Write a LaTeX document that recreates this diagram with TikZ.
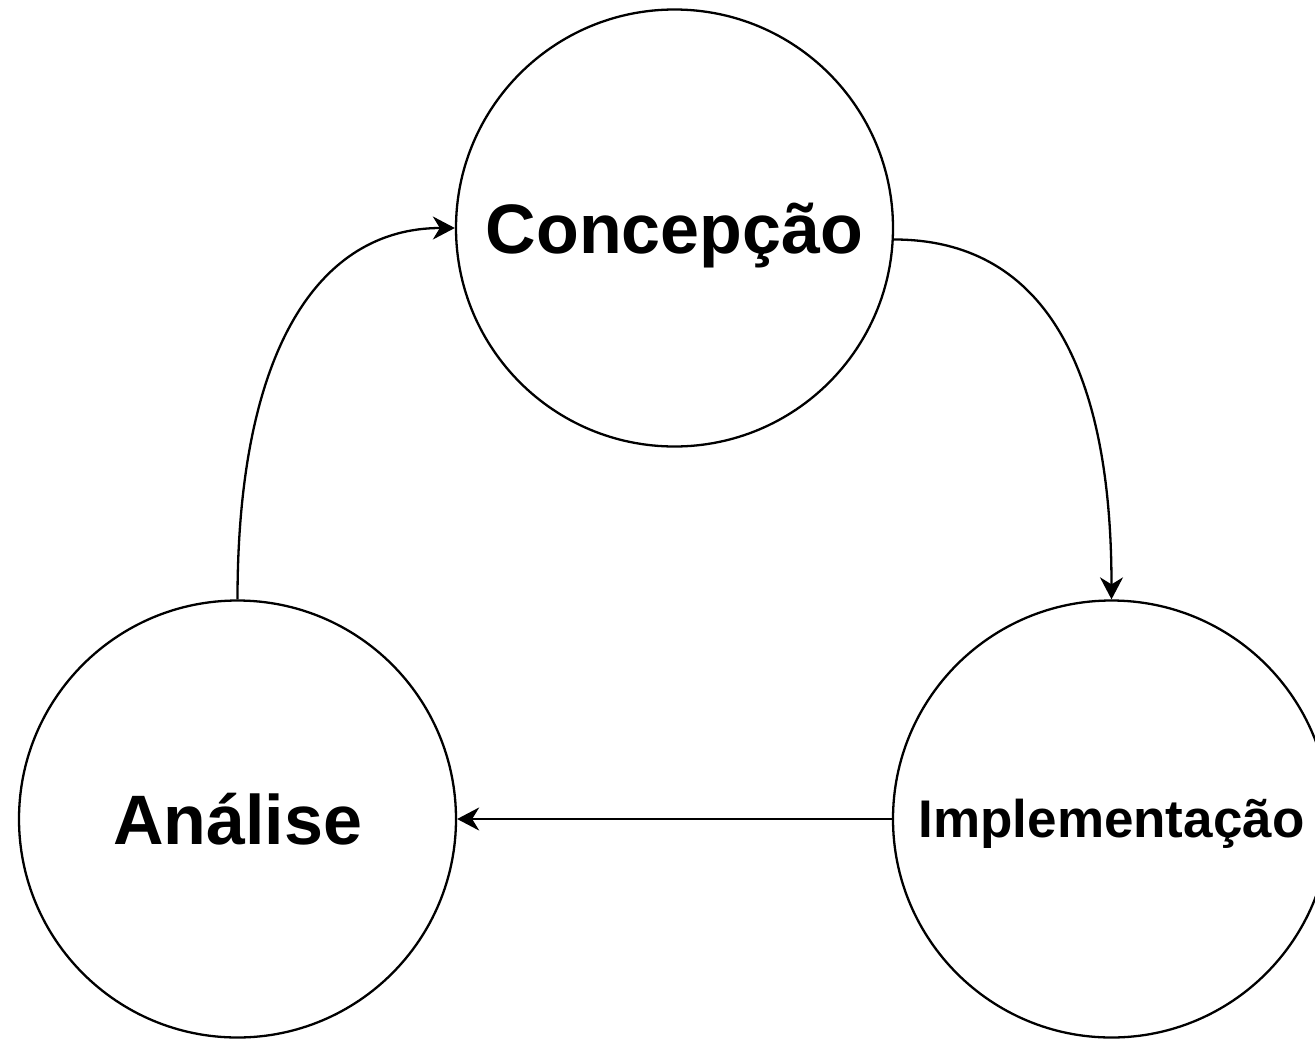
\documentclass[tikz,border=0pt]{standalone}
\usepackage{fontspec}
\setmainfont{Liberation Sans}
\usetikzlibrary{arrows.meta}
\begin{document}
\begin{tikzpicture}[x=1pt,y=-1pt,
  phase/.style={circle,draw=black,line width=2.3pt,minimum size=437pt,inner sep=0pt,text depth=0pt},
  big/.style={font=\bfseries\fontsize{70}{80}\selectfont,text height=50.1pt},
  small/.style={font=\bfseries\fontsize{53}{60}\selectfont,text height=37.9pt},
  flow/.style={line width=2.3pt,-{Stealth[length=22pt,width=23pt,inset=7pt]}}]
  \clip (0,0) rectangle (1315,1042);
  \fill[white] (0,0) rectangle (1315,1042);

  \node[phase,big]   (con) at (674.5,228) {Concepção};
  \node[phase,big]   (ana) at (237.5,819) {Análise};
  \node[phase,small] (imp) at (1111.5,819) {Implementação};

  \draw[flow] (ana.north) .. controls +(0,-250) and +(-136,0) .. (con.west);
  \draw[flow] (con.-3) .. controls +(145,0) and +(0,-240) .. (imp.north);
  \draw[flow] (imp.west) -- (ana.east);
\end{tikzpicture}
\end{document}
